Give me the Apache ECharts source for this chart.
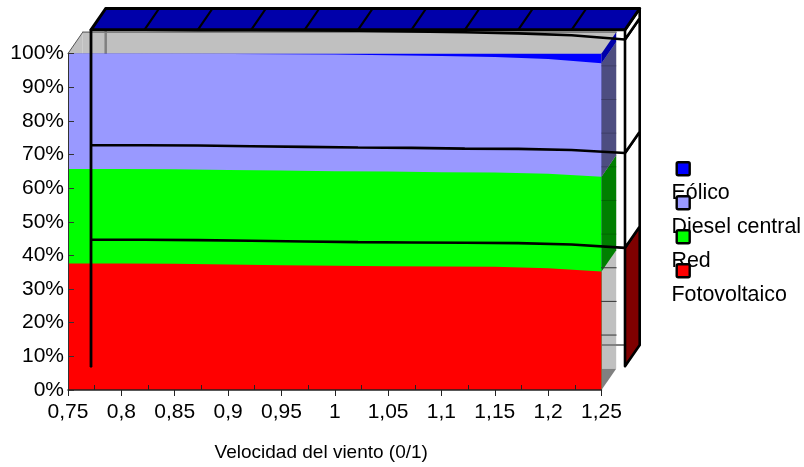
<!DOCTYPE html>
<html><head><meta charset="utf-8">
<style>html,body{margin:0;padding:0;background:#fff}#c{width:804px;height:467px}</style>
<script src="https://cdn.jsdelivr.net/npm/echarts@6/dist/echarts.min.js"></script>
</head><body><div id="c"></div>
<script>
const speeds = [0.75,0.8,0.85,0.9,0.95,1,1.05,1.1,1.15,1.2,1.25];
const seriesNames = ['Fotovoltaico','Red','Diesel central','Eólico'];
const fotovoltaico = [37.6,37.6,37.5,37.3,37.1,36.9,36.8,36.7,36.6,36.2,35.2];
const red          = [28.1,28.1,28.1,28.1,28.1,28.1,28.1,28.0,28.0,28.1,28.2];
const diesel       = [34.3,34.3,34.3,34.45,34.6,34.7,34.6,34.55,34.35,34.1,33.7];
const eolico       = [0,0,0.1,0.15,0.2,0.3,0.5,0.75,1.05,1.6,2.9];
const yTicks = [0,10,20,30,40,50,60,70,80,90,100];
const colors = ['#ff0000','#00ff00','#9999ff','#0000ff'];
const sideColors = ['#c0c0c0','#007f00','#4d4d80','#0000aa'];
const panelColors = ['#7f0000','#ffffff','#ffffff','#ffffff'];
const valuesBySeries = [fotovoltaico,red,diesel,eolico];
const FONT = 'Liberation Sans, Arial, sans-serif';
const DX = 14.7, DY = -21.3, LAST = speeds.length-1;
const xMax = speeds[LAST], xMin = speeds[0];
// running totals of the stack, per band
const cumulative = []; 
valuesBySeries.forEach((v,i)=>cumulative.push(v.map((y,k)=>y+(i?cumulative[i-1][k]:0))));
const topAtEnd = cumulative.map((c,i)=>[i?cumulative[i-1][LAST]:0,c[LAST]]);

const el = document.getElementById('c');
const chart = echarts.init(el,null,{renderer:'canvas'});
const poly = (pts,fill,stroke,lw)=>({type:'polygon',shape:{points:pts},style:{fill:fill,stroke:stroke||null,lineWidth:lw||0,lineJoin:'round'}});
const line = (a,b,stroke,lw)=>({type:'line',shape:{x1:a[0],y1:a[1],x2:b[0],y2:b[1]},style:{stroke:stroke,lineWidth:lw,lineCap:'round'}});
const back = p=>[p[0]+DX,p[1]+DY];
function shape(gridIndex,z,build){
  return {type:'custom',xAxisIndex:gridIndex,yAxisIndex:gridIndex,z:z,silent:true,clip:false,data:[[xMin,0]],
    renderItem:(params,api)=>({type:'group',children:build(v=>api.coord(v))})};
}
const series = [];
// walls and floor
series.push(shape(0,1,c=>{
  const a=c([xMin,0]),b=c([xMax,0]),d=c([xMin,100]),e=c([xMax,100]);
  return [
    poly([a,back(a),back(d),d],'#c0c0c0'),
    poly([back(a),back(b),back(e),back(d)],'#c0c0c0'),
    poly([a,back(a),back(b),b],'#808080'),
    line(d,back(d),'#555',1),line(back(d),back(e),'#666',1.2)];
}));
// rear edges of the outline box
series.push(shape(1,1.5,c=>{
  const a=back(c([xMin,0])),b=back(c([xMax,0])),d=back(c([xMin,100]));
  return [line(a,b,'#808080',2),line(a,d,'#808080',2.5)];
}));
// stacked areas, tallest first
[3,2,1,0].forEach(i=>series.push({name:seriesNames[i],type:'line',xAxisIndex:0,yAxisIndex:0,z:2,
  symbol:'none',silent:true,lineStyle:{width:0},areaStyle:{color:colors[i],opacity:1},itemStyle:{color:colors[i]},
  data:cumulative[i].map((v,k)=>[speeds[k],v])}));
// end faces and the wall's level lines seen beside them
series.push(shape(0,2.5,c=>{
  const out=[];
  topAtEnd.forEach((r,i)=>{ if(i===0) return;
    const p=c([xMax,r[0]]),q=c([xMax,r[1]]);
    out.push(poly([p,back(p),back(q),q],sideColors[i]));});
  yTicks.slice(1,-1).forEach(t=>{const p=back(c([xMax,t]));
    const hidden=t>topAtEnd[0][1]-3;
    out.push(line([p[0]-DX,p[1]],p,hidden?'rgba(0,0,0,0.2)':'#333',1));});
  return out;
}));
// right panels and lid of the outline box
series.push(shape(1,5,c=>{
  const out=[];
  topAtEnd.forEach((r,i)=>{
    const p=c([xMax,r[0]]),q=c([xMax,i===3?100:r[1]]);
    out.push(poly([p,back(p),back(q),q],panelColors[i],'#000',2.6));});
  const a=c([xMin,100]),b=c([xMax,100]);
  out.push(poly([a,back(a),back(b),b],'#0000aa','#000',3));
  speeds.slice(1,-1).forEach(s=>{const p=c([s,100]);out.push(line(p,back(p),'#000',2.2));});
  out.push(line(c([xMin,0]),a,'#000',2.8));
  return out;
}));
// outline curves
cumulative.slice(0,3).forEach(vals=>series.push({type:'line',xAxisIndex:1,yAxisIndex:1,z:4.5,symbol:'none',silent:true,
  lineStyle:{color:'#000',width:2.6},data:vals.map((v,k)=>[speeds[k],v])}));

const labelComma = v=>String(+v.toFixed(3)).replace('.',',');
const legendOrder = [3,2,1,0];
const graphic = [];
legendOrder.forEach((s,i)=>graphic.push({type:'text',left:671.5,top:183+i*33.9,z:20,
  style:{text:seriesNames[s],font:'21.4px '+FONT,fill:'#000'}}));
legendOrder.forEach((s,i)=>graphic.push({type:'rect',left:675.5,top:161+i*34,z:21,
  shape:{width:13,height:13,r:1.5},style:{fill:colors[s],stroke:'#000',lineWidth:2.4}}));

chart.setOption({
  animation:false,backgroundColor:'#fff',
  grid:[{left:68,right:202.5,top:53.5,bottom:77},{left:91,right:179,top:29.8,bottom:100.7}],
  xAxis:[{type:'value',gridIndex:0,min:xMin,max:xMax,interval:0.05,z:3,
      name:'Velocidad del viento (0/1)',nameLocation:'middle',nameGap:53,
      nameTextStyle:{fontFamily:FONT,fontSize:19,color:'#000',padding:[0,27,0,0]},
      axisLine:{show:true,onZero:false,lineStyle:{color:'#222',width:1.5}},
      axisTick:{show:true,length:6,lineStyle:{color:'#222',width:1}},
      minorTick:{show:true,splitNumber:2,length:-5,lineStyle:{color:'#222',width:1}},
      axisLabel:{fontFamily:FONT,fontSize:21,color:'#000',margin:12,formatter:labelComma,hideOverlap:false,showMinLabel:true,showMaxLabel:true},
      splitLine:{show:false}},
    {type:'value',gridIndex:1,min:xMin,max:xMax,interval:0.05,show:false}],
  yAxis:[{type:'value',gridIndex:0,min:0,max:100,interval:10,z:3,
      axisLine:{show:true,lineStyle:{color:'#333',width:1}},
      axisTick:{show:true,inside:true,length:6,lineStyle:{color:'#333',width:1}},
      axisLabel:{fontFamily:FONT,fontSize:21,color:'#000',margin:4,formatter:v=>v+'%'},
      splitLine:{show:false}},
    {type:'value',gridIndex:1,min:0,max:100,show:false}],
  series:series,graphic:graphic
});
</script></body></html>
